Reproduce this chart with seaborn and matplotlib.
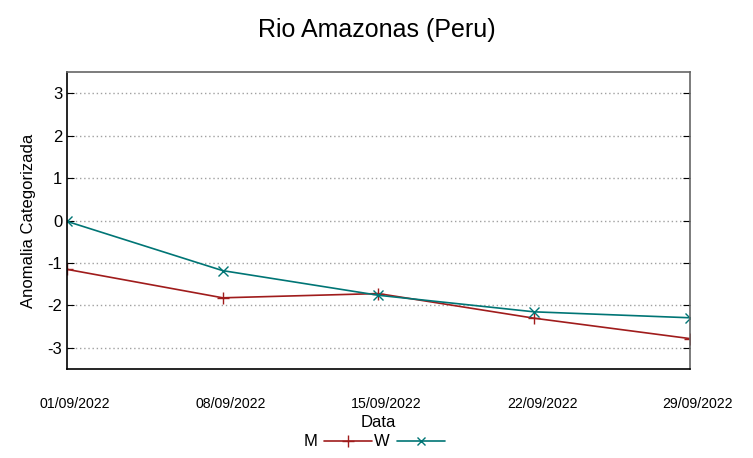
import matplotlib
matplotlib.use("Agg")
import matplotlib.pyplot as plt
import matplotlib.transforms as mtransforms
import seaborn as sns
from matplotlib.lines import Line2D

dates = ["01/09/2022", "08/09/2022", "15/09/2022", "22/09/2022", "29/09/2022"]
m_values = [-1.15, -1.82, -1.72, -2.30, -2.78]
w_values = [-0.02, -1.18, -1.76, -2.15, -2.29]

sns.set_style("white")
plt.rcParams['font.family'] = ['Liberation Sans', 'DejaVu Sans']
plt.rcParams['axes.unicode_minus'] = False
plt.rcParams['text.color'] = 'black'
plt.rcParams['axes.labelcolor'] = 'black'
plt.rcParams['xtick.color'] = 'black'
plt.rcParams['ytick.color'] = 'black'

x_pos = list(range(len(dates)))

fig = plt.figure(figsize=(7.53, 4.58), dpi=100)
ax = fig.add_axes([0.089, 0.194, 0.827, 0.649])

palette = {"M": "#a01c1c", "W": "#007575"}
markers = {"M": "+", "W": "x"}
msize = {"M": 9, "W": 7}
for name, vals in [("M", m_values), ("W", w_values)]:
    sns.lineplot(x=x_pos, y=vals, color=palette[name], marker=markers[name],
                 markersize=msize[name], markeredgewidth=1.0,
                 markeredgecolor=palette[name], linewidth=1.2, ax=ax)

ax.set_xlim(0, len(dates) - 1)
ax.set_ylim(-3.5, 3.5)
ax.set_yticks([-3, -2, -1, 0, 1, 2, 3])
ax.set_xticks(x_pos)
ax.set_xticklabels(dates, fontsize=10.2)
ax.tick_params(axis='x', pad=20, direction='in', length=5)
ax.tick_params(axis='y', labelsize=12, direction='in', length=5, right=True, left=True)
offset = mtransforms.ScaledTranslation(0.08, 0, fig.dpi_scale_trans)
for lab in ax.get_xticklabels():
    lab.set_transform(lab.get_transform() + offset)
ax.yaxis.grid(True, linestyle=(0, (1, 2)), color='#a0a0a0', linewidth=1)
ax.xaxis.grid(False)
ax.set_xlabel("Data", fontsize=12, labelpad=3)
ax.set_ylabel("Anomalia Categorizada", fontsize=12, labelpad=8)
for s in ["left", "bottom"]:
    ax.spines[s].set_color("black")
for s in ["top", "right"]:
    ax.spines[s].set_color("#666666")
for s in ax.spines.values():
    s.set_linewidth(1.2)

fig.suptitle("Rio Amazonas (Peru)", fontsize=18, y=0.96)

handles = [Line2D([], [], color=palette["M"], marker="+", markersize=9, linewidth=1.2),
           Line2D([], [], color=palette["W"], marker="x", markersize=6, linewidth=1.2)]
fig.legend(handles, ["M", "W"], loc="center", bbox_to_anchor=(0.497, 0.035), ncol=2,
           markerfirst=False, frameon=False, fontsize=12, handlelength=2.9,
           columnspacing=0.1, handletextpad=0.4)

fig.savefig("out.png", dpi=100)
